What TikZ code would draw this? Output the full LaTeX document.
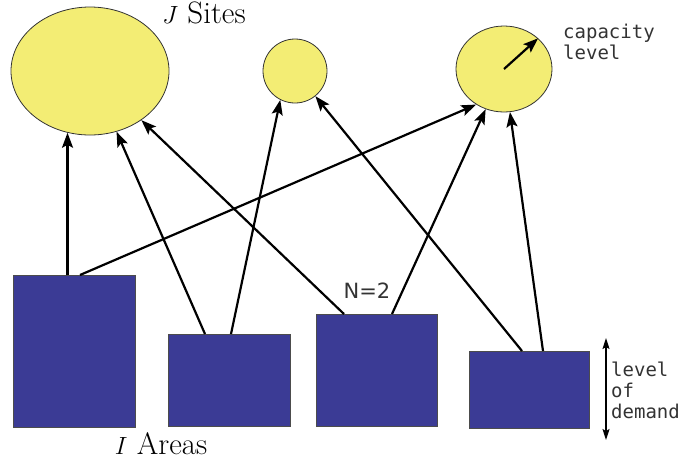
\documentclass[tikz,border=0pt]{standalone}
\usepackage{fontspec}
\newfontfamily\monofont{DejaVu Sans Mono}
\newfontfamily\sansfont{DejaVu Sans}
\usetikzlibrary{arrows.meta,shapes.geometric}

\definecolor{siteyellow}{HTML}{F3ED74}
\definecolor{areablue}{HTML}{3B3B95}

\tikzset{
  site/.style={ellipse, draw=black!80, fill=siteyellow, line width=0.8pt, inner sep=0pt},
  area/.style={rectangle, draw=black!70, fill=areablue, line width=0.8pt, anchor=north west, inner sep=0pt},
  link/.style={line width=2.2pt, -{Stealth[length=15pt,width=11pt,inset=3pt]}},
  lbl/.style={text=black!80, font=\monofont\fontsize{19}{21}\selectfont, align=left, inner sep=0pt}
}

\begin{document}
\begin{tikzpicture}[x=1pt,y=-1pt]
        \useasboundingbox (0,0) rectangle (682,467);

        % místa
        \node[site, minimum width=158pt, minimum height=128pt] (s1) at (90,71) {};
        \node[site, minimum width=64pt, minimum height=64pt] (s2) at (295,71) {};
        \node[site, minimum width=96pt, minimum height=86pt] (s3) at (504,69) {};

        % oblasti
        \node[area, minimum width=122pt, minimum height=152pt] (a1) at (13,275) {};
        \node[area, minimum width=122pt, minimum height=92pt] (a2) at (168,334) {};
        \node[area, minimum width=121pt, minimum height=112pt] (a3) at (316,314) {};
        \node[area, minimum width=120pt, minimum height=77pt] (a4) at (469,351) {};

        % přiřazení
        \draw[link] (s1.250 |- a1.north) -- (s1.250);
        \draw[link] ([xshift=67pt]a1.north west) -- (s3.232);
        \draw[link] ([xshift=37pt]a2.north west) -- (s1);
        \draw[link] ([xshift=63pt]a2.north west) -- (s2.243);
        \draw[link] ([xshift=28pt]a3.north west) -- (s1);
        \draw[link] ([xshift=76pt]a3.north west) -- (s3);
        \draw[link] ([xshift=53pt]a4.north west) -- (s2);
        \draw[link] ([xshift=74pt]a4.north west) -- (s3);

        % kapacita
        \draw[link] (s3.center) -- (s3.42);
        \node[lbl, anchor=west] (cap) at (563,42) {capacity\\level};

        % poptávka
        \draw[line width=1.4pt, {Stealth[length=11pt,width=7pt,inset=2pt]}-{Stealth[length=11pt,width=7pt,inset=2pt]}] (606,338) coordinate (dtop) -- (606,440) coordinate (dbot);
        \node[lbl, anchor=west] (dem) at (611,390) {level\\of\\demand};

        % popisky
        \node (sites) at (204,13) {\fontsize{31}{34}\selectfont $J$ Sites};
        \node (areas) at (161,444) {\fontsize{31}{34}\selectfont $I$ Areas};
        \node[text=black!80, font=\sansfont\fontsize{21}{23}\selectfont] (n2) at (367,291) {N=2};
    \end{tikzpicture}
\end{document}
